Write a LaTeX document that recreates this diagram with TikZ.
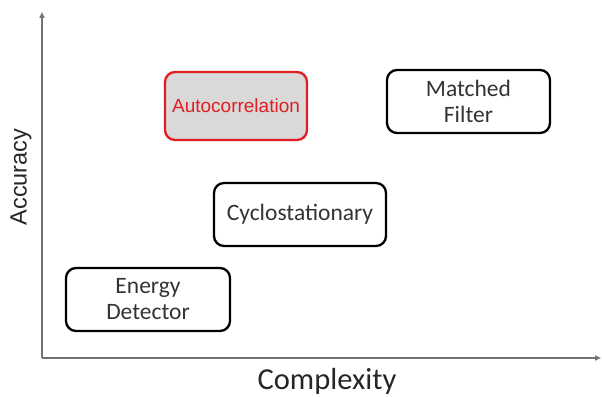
\documentclass[tikz,border=0pt]{standalone}
\usepackage{fontspec}
\setmainfont{Carlito}
\newfontfamily\arialf{Liberation Sans}
\usetikzlibrary{arrows.meta}
\begin{document}
\begin{tikzpicture}[x=1pt,y=-1pt,
  axis/.style={draw=gray!90!black,line width=1.5pt,-{Triangle[length=6pt,width=5pt,fill=black]}},
  boxn/.style={draw=black,line width=2.3pt,rounded corners=10pt,align=center,inner sep=0pt,font=\fontsize{23.5}{26}\selectfont,text=black!80},
  hot/.style={boxn,draw={rgb,255:red,225;green,30;blue,35},fill={rgb,255:red,217;green,217;blue,217},text={rgb,255:red,225;green,30;blue,35},font=\arialf\fontsize{19}{22}\selectfont}]
\useasboundingbox (0,0) rectangle (602,396);
\coordinate (o) at (42,358);
\coordinate (ytip) at (42,12);
\coordinate (xtip) at (601,358);
\draw[axis] (o) -- (ytip);
\draw[axis] (o) -- (xtip);
\node[rotate=90,font=\arialf\fontsize{23.5}{26}\selectfont,text=black!85] (acc) at (21,177) {Accuracy};
\node[font=\fontsize{30.5}{33}\selectfont,text=black!85] (cpx) at (327,381) {Complexity};
\node[hot,minimum width=142pt,minimum height=68pt] (auto) at (236,106) {Autocorrelation};
\node[boxn,minimum width=163pt,minimum height=63pt] (mf) at (468.5,101.5) {Matched\\Filter};
\node[boxn,minimum width=172pt,minimum height=63pt] (cyc) at (300,214.5) {Cyclostationary};
\node[boxn,minimum width=164pt,minimum height=63pt] (ed) at (148,299.5) {Energy\\Detector};
\end{tikzpicture}
\end{document}
